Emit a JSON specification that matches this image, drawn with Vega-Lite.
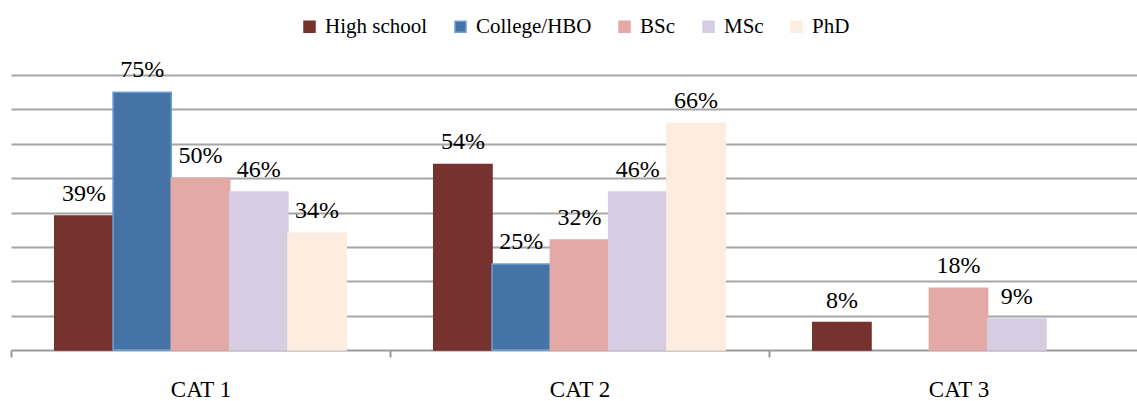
{
  "$schema": "https://vega.github.io/schema/vega-lite/v6.json",
  "width": 1126,
  "height": 275,
  "autosize": {"type": "none"},
  "padding": {"left": 11, "top": 75, "right": 0, "bottom": 51},
  "background": "white",
  "config": {
    "view": {"stroke": null},
    "font": "Liberation Serif",
    "legend": {
      "orient": "none",
      "legendX": 288,
      "legendY": -59,
      "direction": "horizontal",
      "columns": 5,
      "title": null,
      "padding": 0,
      "symbolType": "square",
      "symbolSize": 121,
      "symbolStrokeWidth": 1.5,
      "labelFont": "Liberation Serif",
      "labelFontSize": 21,
      "labelColor": "#000000",
      "labelOffset": 5,
      "columnPadding": 22
    }
  },
  "data": {
    "values": [
      {"category": "CAT 1", "level": "High school", "pct": 0.39},
      {"category": "CAT 1", "level": "College/HBO", "pct": 0.75},
      {"category": "CAT 1", "level": "BSc", "pct": 0.50},
      {"category": "CAT 1", "level": "MSc", "pct": 0.46},
      {"category": "CAT 1", "level": "PhD", "pct": 0.34},
      {"category": "CAT 2", "level": "High school", "pct": 0.54},
      {"category": "CAT 2", "level": "College/HBO", "pct": 0.25},
      {"category": "CAT 2", "level": "BSc", "pct": 0.32},
      {"category": "CAT 2", "level": "MSc", "pct": 0.46},
      {"category": "CAT 2", "level": "PhD", "pct": 0.66},
      {"category": "CAT 3", "level": "High school", "pct": 0.08},
      {"category": "CAT 3", "level": "BSc", "pct": 0.18},
      {"category": "CAT 3", "level": "MSc", "pct": 0.09}
    ]
  },
  "encoding": {
    "x": {
      "field": "category",
      "type": "nominal",
      "scale": {"range": [0, 1137], "paddingInner": 0, "paddingOuter": 0},
      "axis": {
        "title": null,
        "labelAngle": 0,
        "labelFont": "Liberation Serif",
        "labelFontSize": 23,
        "labelColor": "#000000",
        "labelPadding": 21,
        "tickBand": "extent",
        "tickSize": 7,
        "tickWidth": 2,
        "tickColor": "#9a9a9a",
        "domainColor": "#9a9a9a",
        "domainWidth": 2,
        "grid": false
      }
    },
    "xOffset": {
      "field": "level",
      "type": "nominal",
      "sort": ["High school", "College/HBO", "BSc", "MSc", "PhD"],
      "scale": {"paddingInner": 0, "paddingOuter": 0.75}
    },
    "y": {
      "field": "pct",
      "type": "quantitative",
      "scale": {"domain": [0, 0.8], "nice": false},
      "axis": {
        "title": null,
        "labels": false,
        "ticks": false,
        "domain": false,
        "grid": true,
        "values": [0.1, 0.2, 0.3, 0.4, 0.5, 0.6, 0.7, 0.8],
        "gridColor": "#a6a6a6",
        "gridWidth": 2
      }
    }
  },
  "layer": [
    {
      "mark": {"type": "bar", "strokeWidth": 1.5},
      "encoding": {
        "color": {
          "field": "level",
          "type": "nominal",
          "sort": ["High school", "College/HBO", "BSc", "MSc", "PhD"],
          "scale": {
            "domain": ["High school", "College/HBO", "BSc", "MSc", "PhD"],
            "range": ["#76322f", "#4573a5", "#e2a9a6", "#d6cde2", "#fdece0"]
          }
        },
        "stroke": {
          "field": "level",
          "type": "nominal",
          "sort": ["High school", "College/HBO", "BSc", "MSc", "PhD"],
          "scale": {
            "domain": ["High school", "College/HBO", "BSc", "MSc", "PhD"],
            "range": ["#76322f", "#6f9fd6", "#e2a9a6", "#d6cde2", "#fdece0"]
          }
        }
      }
    },
    {
      "mark": {
        "type": "text",
        "baseline": "alphabetic",
        "dy": -15,
        "fontSize": 24,
        "font": "Liberation Serif",
        "color": "#000000"
      },
      "encoding": {
        "text": {"field": "pct", "type": "quantitative", "format": ".0%"}
      }
    }
  ]
}
